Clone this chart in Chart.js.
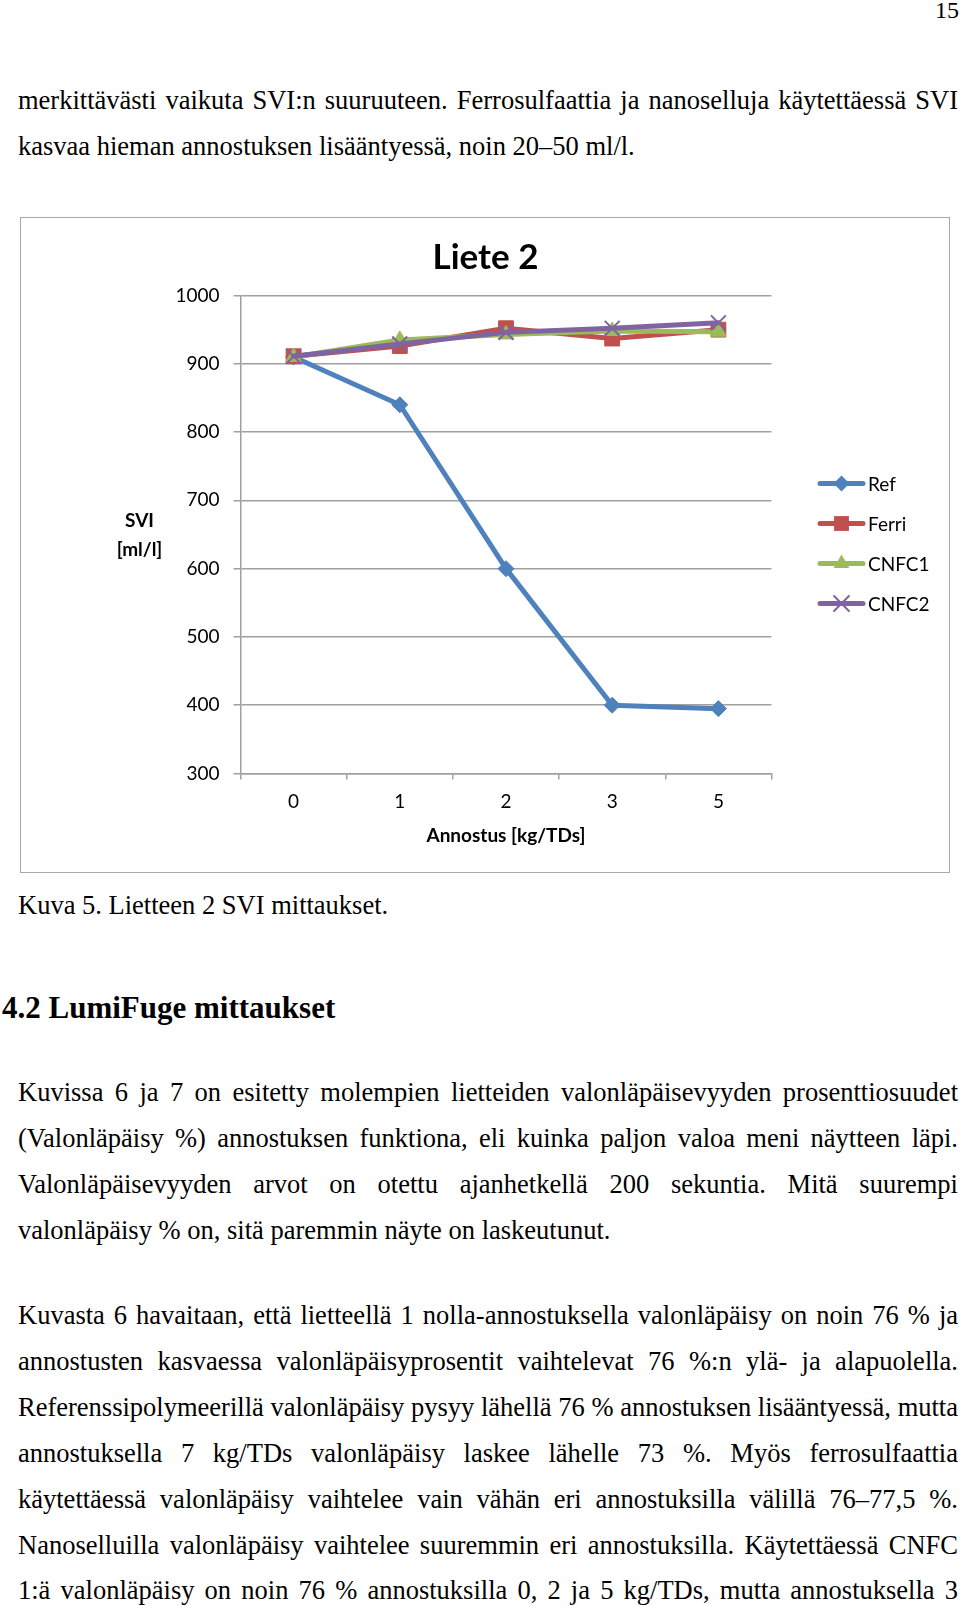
<!DOCTYPE html>
<html lang="fi">
<head>
<meta charset="UTF-8">
<title>Liete 2 SVI</title>
<script src="https://cdn.jsdelivr.net/npm/chart.js"></script>
<style>
    body {
        margin: 0;
        width: 960px;
        height: 1606px;
        background: #fff;
        overflow: hidden;
        position: relative;
        font-family: "Liberation Serif", "Times New Roman", serif;
        color: #000;
    }
    .ln {
        position: absolute;
        left: 18px;
        width: 940px;
        font-size: 26.5px;
        line-height: 46px;
        height: 46px;
        white-space: nowrap;
    }
    .j {
        text-align: justify;
        text-align-last: justify;
    }
    .pagenum {
        position: absolute;
        right: 1px;
        top: -2px;
        font-size: 24px;
        line-height: 24px;
    }
    h2 {
        position: absolute;
        left: 2px;
        top: 985px;
        margin: 0;
        font-size: 31px;
        line-height: 46px;
        font-weight: bold;
    }
    .chartbox {
        position: absolute;
        left: 20px;
        top: 217px;
        width: 930px;
        height: 656px;
        border: 1.5px solid #a8a8a8;
        box-sizing: border-box;
    }
    .chartbox canvas {
        position: absolute;
        left: 0;
        top: 0;
    }
</style>
</head>
<body>
<div class="pagenum">15</div>

<div class="ln j" style="top:77px">merkittävästi vaikuta SVI:n suuruuteen. Ferrosulfaattia ja nanoselluja käytettäessä SVI</div>
<div class="ln" style="top:123px">kasvaa hieman annostuksen lisääntyessä, noin 20–50 ml/l.</div>

<div class="chartbox">
    <canvas id="sviChart" width="927" height="653"></canvas>
</div>

<div class="ln" style="top:882px">Kuva 5. Lietteen 2 SVI mittaukset.</div>

<h2>4.2 LumiFuge mittaukset</h2>

<div class="ln j" style="top:1069px">Kuvissa 6 ja 7 on esitetty molempien lietteiden valonläpäisevyyden prosenttiosuudet</div>
<div class="ln j" style="top:1115px">(Valonläpäisy %) annostuksen funktiona, eli kuinka paljon valoa meni näytteen läpi.</div>
<div class="ln j" style="top:1161px">Valonläpäisevyyden arvot on otettu ajanhetkellä 200 sekuntia. Mitä suurempi</div>
<div class="ln" style="top:1207px">valonläpäisy % on, sitä paremmin näyte on laskeutunut.</div>

<div class="ln j" style="top:1292px">Kuvasta 6 havaitaan, että lietteellä 1 nolla-annostuksella valonläpäisy on noin 76 % ja</div>
<div class="ln j" style="top:1338px">annostusten kasvaessa valonläpäisyprosentit vaihtelevat 76 %:n ylä- ja alapuolella.</div>
<div class="ln j" style="top:1384px">Referenssipolymeerillä valonläpäisy pysyy lähellä 76 % annostuksen lisääntyessä, mutta</div>
<div class="ln j" style="top:1430px">annostuksella 7 kg/TDs valonläpäisy laskee lähelle 73 %. Myös ferrosulfaattia</div>
<div class="ln j" style="top:1476px">käytettäessä valonläpäisy vaihtelee vain vähän eri annostuksilla välillä 76–77,5 %.</div>
<div class="ln j" style="top:1522px">Nanoselluilla valonläpäisy vaihtelee suuremmin eri annostuksilla. Käytettäessä CNFC</div>
<div class="ln j" style="top:1567px">1:ä valonläpäisy on noin 76 % annostuksilla 0, 2 ja 5 kg/TDs, mutta annostuksella 3</div>

<script>
    // annostus kg/TDs
    const categories = ['0', '1', '2', '3', '5'];
    // SVI ml/l
    const refValues = [910, 840, 600, 400, 395];
    const ferriValues = [911, 926, 952, 937, 950];
    const cnfc1Values = [910, 935, 943, 948, 947];
    const cnfc2Values = [911, 929, 946, 952, 960];
    const yTicks = [300, 400, 500, 600, 700, 800, 900, 1000];
    const chartTitle = 'Liete 2';
    const yTitle = ['SVI', '[ml/l]'];

    const gridGray = '#a0a0a0';
    const uiFont = 'Lato, "Open Sans", sans-serif';

    function series(label, data, color, style, radius, order) {
        return {
            label: label,
            data: data,
            borderColor: color,
            backgroundColor: color,
            borderWidth: 5,
            borderJoinStyle: 'round',
            borderCapStyle: 'round',
            pointStyle: style,
            pointRadius: radius,
            pointBackgroundColor: color,
            pointBorderColor: color,
            pointBorderWidth: style === 'crossRot' ? 2 : 1,
            tension: 0,
            order: order
        };
    }

    function drawMarker(ctx, style, x, y, r, color) {
        ctx.save();
        ctx.fillStyle = color;
        ctx.strokeStyle = color;
        ctx.lineWidth = style === 'crossRot' ? 2 : 1;
        ctx.beginPath();
        if (style === 'rectRot') {
            ctx.moveTo(x, y - r); ctx.lineTo(x + r, y); ctx.lineTo(x, y + r); ctx.lineTo(x - r, y);
            ctx.closePath(); ctx.fill();
        } else if (style === 'rect') {
            const s = r * Math.SQRT1_2;
            ctx.rect(x - s, y - s, 2 * s, 2 * s); ctx.fill();
        } else if (style === 'triangle') {
            ctx.moveTo(x, y - r);
            ctx.lineTo(x + r * Math.sin(Math.PI * 2 / 3), y - r * Math.cos(Math.PI * 2 / 3));
            ctx.lineTo(x + r * Math.sin(Math.PI * 4 / 3), y - r * Math.cos(Math.PI * 4 / 3));
            ctx.closePath(); ctx.fill();
        } else {
            const s = r * Math.SQRT1_2;
            ctx.moveTo(x - s, y - s); ctx.lineTo(x + s, y + s);
            ctx.moveTo(x + s, y - s); ctx.lineTo(x - s, y + s);
            ctx.stroke();
        }
        ctx.restore();
    }

    // title, horizontal y title and the Excel-style legend on the right
    const sideText = {
        id: 'sideText',
        afterDraw(chart) {
            const ctx = chart.ctx;
            ctx.save();
            ctx.fillStyle = '#000';
            ctx.textAlign = 'center';
            ctx.textBaseline = 'middle';
            ctx.font = 'bold 35px ' + uiFont;
            ctx.fillText(chartTitle, 464.5, 40);

            ctx.font = 'bold 19px ' + uiFont;
            ctx.fillText(yTitle[0], 118.5, 303);
            ctx.fillText(yTitle[1], 118.5, 331.5);

            ctx.textAlign = 'left';
            ctx.font = '19px ' + uiFont;
            chart.data.datasets.forEach(function (ds, i) {
                const y = 265.5 + i * 40;
                ctx.strokeStyle = ds.borderColor;
                ctx.lineWidth = 5;
                ctx.lineCap = 'round';
                ctx.beginPath();
                ctx.moveTo(799, y);
                ctx.lineTo(842, y);
                ctx.stroke();
                drawMarker(ctx, ds.pointStyle, 820.5, y, ds.pointRadius, ds.borderColor);
                ctx.fillStyle = '#000';
                ctx.fillText(ds.label, 847, y + 1);
            });
            ctx.restore();
        }
    };

    new Chart(document.getElementById('sviChart').getContext('2d'), {
        type: 'line',
        data: {
            labels: categories,
            datasets: [
                series('Ref', refValues, '#4f81bd', 'rectRot', 8, 4),
                series('Ferri', ferriValues, '#c0504d', 'rect', 10.5, 3),
                series('CNFC1', cnfc1Values, '#9bbb59', 'triangle', 9, 2),
                series('CNFC2', cnfc2Values, '#8064a2', 'crossRot', 10.5, 1)
            ]
        },
        options: {
            responsive: false,
            animation: false,
            layout: {
                padding: { left: 139.5, right: 176.5, top: 77.5, bottom: 24.1 }
            },
            plugins: {
                legend: { display: false },
                tooltip: { enabled: false },
                title: { display: false }
            },
            scales: {
                x: {
                    offset: true,
                    grid: {
                        offset: true,
                        drawOnChartArea: false,
                        drawTicks: true,
                        tickLength: 6,
                        color: gridGray,
                        lineWidth: 1.5
                    },
                    border: { color: gridGray, width: 1.5 },
                    ticks: {
                        color: '#000',
                        font: { family: uiFont, size: 19 },
                        padding: 11
                    },
                    title: {
                        display: true,
                        text: 'Annostus [kg/TDs]',
                        color: '#000',
                        font: { family: uiFont, size: 19, weight: 'bold' },
                        padding: 0
                    },
                    afterFit(scale) { scale.height = 73.4; }
                },
                y: {
                    min: 300,
                    max: 1000,
                    grid: { color: gridGray, lineWidth: 1.5, tickLength: 7 },
                    border: { color: gridGray, width: 1.5 },
                    ticks: {
                        color: '#000',
                        font: { family: uiFont, size: 19 },
                        padding: 14,
                        callback: function (value) { return String(value); }
                    },
                    afterBuildTicks(scale) {
                        scale.ticks = yTicks.map(function (v) { return { value: v }; });
                    },
                    afterFit(scale) { scale.width = 80; }
                }
            }
        },
        plugins: [sideText]
    });
</script>
</body>
</html>
